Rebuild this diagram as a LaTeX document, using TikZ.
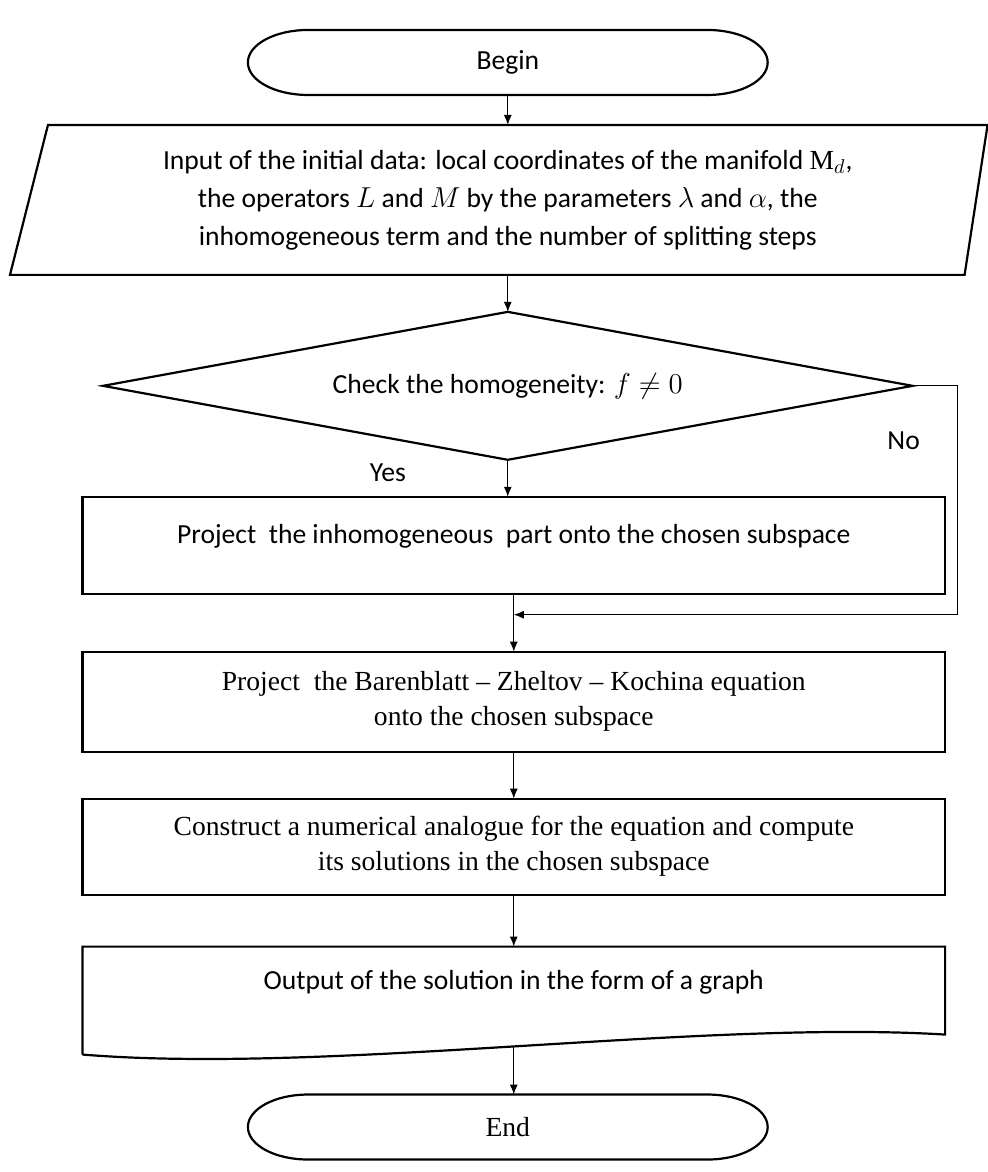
\documentclass[tikz,border=0pt]{standalone}
\usepackage{fontspec}
\setmainfont{Liberation Serif}
\newfontfamily\calib{Carlito}
\usetikzlibrary{positioning,shapes.geometric,arrows.meta}

\begin{document}
\begin{tikzpicture}[auto,node distance=18.5pt,>={Latex[length=5pt,width=4pt]}]

	\tikzstyle{term}=[rectangle,outer sep=0pt,minimum width=260pt,minimum height=32.5pt]
	\tikzstyle{proc}=[draw=black,line width=1.1pt,outer sep=0pt,rectangle,minimum width=431.5pt,align=center]
	\tikzstyle{outline}=[draw=black,line width=1.1pt]
	\tikzstyle{line}=[line width=0.6pt]
	\tikzstyle{sans}=[font=\calib\fontsize{13.8}{19}\selectfont]
	\tikzstyle{serif}=[font=\fontsize{13.8}{17.5}\selectfont]
	\tikzstyle{lbl}=[font=\calib\fontsize{13.8}{15}\selectfont]

	\useasboundingbox (-254pt,31.25pt) rectangle (240pt,-555pt);

	\node[term, sans] (begin) {Begin};
	\node[below=15pt of begin, outer sep=0pt, minimum width=479pt, minimum height=75pt, align=center, sans] (inp) {Input of the initial data: local coordinates of the manifold $\mathrm{M}_d$,\\ the operators $L$ and $M$ by the parameters $\lambda$ and $\alpha$, the\\ inhomogeneous term and the number of splitting steps};
	\node[diamond, aspect=5.5, outline, outer sep=0pt, minimum width=405pt, minimum height=74pt, inner sep=0pt, below=of inp, sans] (dia) {Check the homogeneity: $f\neq 0$};
	\node[proc, below=of dia, xshift=3pt, minimum height=48.5pt, text depth=11pt, sans] (box1) {Project\ \ the inhomogeneous\ \ part onto the chosen subspace};
	\coordinate[below=10.5pt of box1] (mrg);
	\node[proc, below=29pt of box1, minimum height=50pt, serif] (box2) {Project\ \ the Barenblatt -- Zheltov -- Kochina equation\\ onto the chosen subspace};
	\node[proc, below=23.5pt of box2, minimum height=48pt, serif] (box3) {Construct a numerical analogue for the equation and compute\\ its solutions in the chosen subspace};
	\node[below=26pt of box3, outer sep=0pt, minimum width=431.5pt, minimum height=36pt, sans] (out) {Output of the solution in the form of a graph};
	\node[term, below=38pt of out, xshift=-3pt, serif] (end) {End};

	% terminals with oval ends
	\draw[outline] ([xshift=30pt]begin.north west) -- ([xshift=-30pt]begin.north east) arc[start angle=90,end angle=-90,x radius=30pt,y radius=16.25pt] -- ([xshift=30pt]begin.south west) arc[start angle=270,end angle=90,x radius=30pt,y radius=16.25pt] -- cycle;
	\draw[outline] ([xshift=30pt]end.north west) -- ([xshift=-30pt]end.north east) arc[start angle=90,end angle=-90,x radius=30pt,y radius=16.25pt] -- ([xshift=30pt]end.south west) arc[start angle=270,end angle=90,x radius=30pt,y radius=16.25pt] -- cycle;

	% input parallelogram and document shape
	\draw[outline] ([xshift=9.5pt]inp.north west) -- ([xshift=0.5pt]inp.north east) -- ([xshift=-11pt]inp.south east) -- ([xshift=-9.5pt]inp.south west) -- cycle;
	\draw[outline] ([yshift=-18pt]out.south west) -- (out.north west) -- (out.north east) -- ([yshift=-8pt]out.south east) .. controls +(-122.5pt,7.5pt) and +(122.5pt,-10pt) .. ([yshift=-18pt]out.south west) coordinate[pos=0.5] (wv);

	\node[lbl] (yes) at ([shift={(-60pt,-6.5pt)}]dia.south) {Yes};
	\node[lbl] (no) at ([shift={(-4.5pt,-27.5pt)}]dia.east) {No};

	\draw[->,line] (begin) -- (inp);
	\draw[->,line] (inp) -- (dia);
	\draw[->,line] (dia.south) -- (dia.south |- box1.north);
	\draw[line] (box1) -- (mrg);
	\draw[->,line] (mrg) -- (box2);
	\draw[->,line] (dia.east) -- ++(22.5pt,0) |- (mrg);
	\draw[->,line] (box2) -- (box3);
	\draw[->,line] (box3) -- (out);
	\draw[->,line] (wv) -- (wv |- end.north);
\end{tikzpicture}
\end{document}
